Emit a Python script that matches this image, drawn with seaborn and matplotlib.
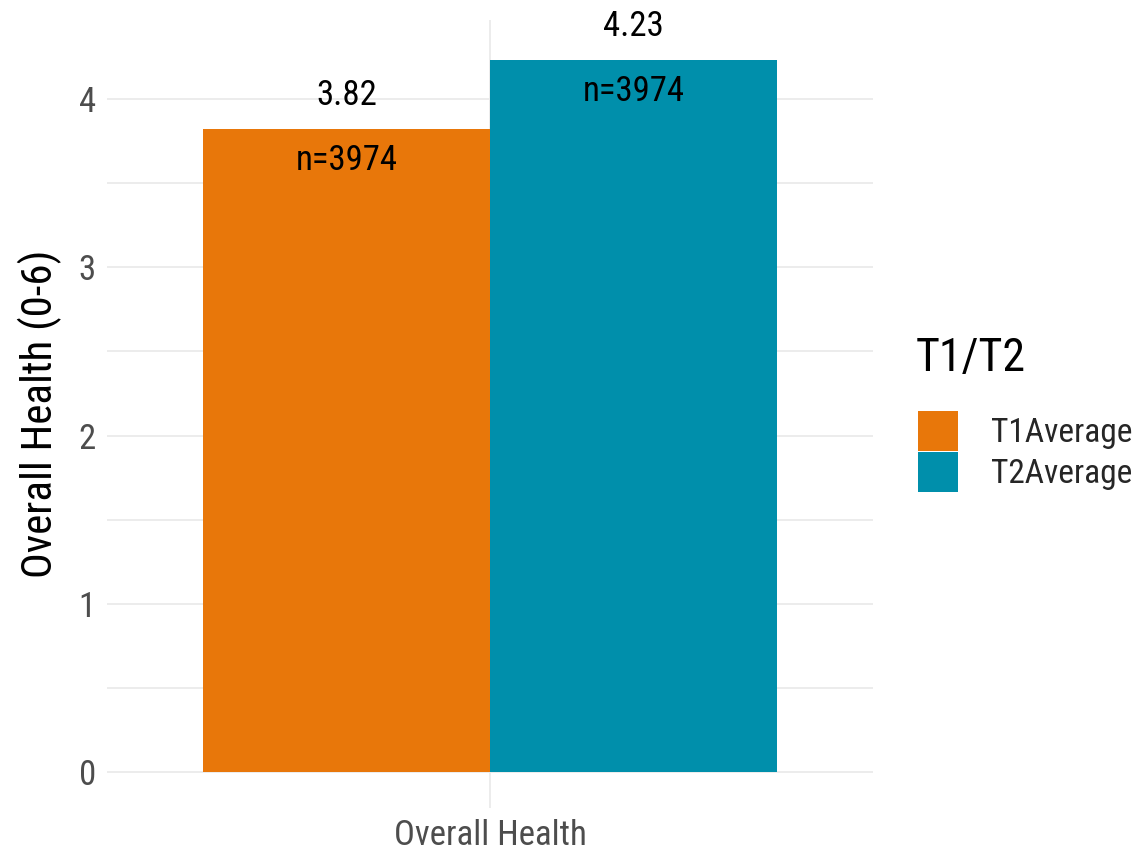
import matplotlib
matplotlib.use("Agg")
import matplotlib.pyplot as plt
import seaborn as sns
import pandas as pd
from matplotlib.patches import Patch

categories = ["Overall Health"]
series = ["T1Average", "T2Average"]
values = [3.82, 4.23]
counts = [3974, 3974]
colors = ["#E8770A", "#008FAB"]

sns.set_theme(style="white")
plt.rcParams['font.family'] = ['Roboto Condensed', 'Liberation Sans Narrow', 'DejaVu Sans']

df = pd.DataFrame({"category": categories * len(series), "series": series, "value": values, "n": counts})

fig = plt.figure(figsize=(11.42, 8.55), dpi=100)
ax = fig.add_axes([107/1142, 1-808/855, (873-107)/1142, (808-20)/855])

sns.barplot(data=df, x="category", y="value", hue="series", palette=colors,
            width=0.9, gap=0, saturation=1, ax=ax, legend=False, zorder=2,
            linewidth=0, edgecolor='none')

ax.set_xlim(-0.6, 0.6)
ax.set_ylim(-0.214, 4.47)
ax.set_yticks([0, 1, 2, 3, 4])
ax.set_yticks([0.5, 1.5, 2.5, 3.5], minor=True)
ax.grid(axis='y', which='both', color='#EBEBEB', linewidth=1.3, zorder=0)
ax.grid(axis='x', which='major', color='#EBEBEB', linewidth=1.3, zorder=0)
for s in ax.spines.values():
    s.set_visible(False)
ax.tick_params(axis='both', which='both', length=0, labelsize=25, labelcolor='#4D4D4D', pad=8)
ax.set_xlabel("")
ax.set_ylabel("Overall Health (0-6)", fontsize=31, color='black', labelpad=12)

for i, (v, n) in enumerate(zip(values, counts)):
    xpos = -0.225 + i * 0.45
    ax.annotate(f"{v:.2f}", xy=(xpos, v), xytext=(0, 34), textcoords='offset pixels',
                ha='center', va='center', fontsize=25, color='black')
    ax.annotate(f"n={n}", xy=(xpos, v), xytext=(0, -31), textcoords='offset pixels',
                ha='center', va='center', fontsize=25, color='black')

fig.text(916/1142, 1-358/855, "T1/T2", fontsize=33, color='black', ha='left', va='center')
handles = [Patch(facecolor=c, edgecolor='none') for c in colors]
leg = fig.legend(handles, series, loc='upper left',
                 bbox_to_anchor=(918/1142, 1-411/855), frameon=False,
                 fontsize=24, handlelength=1.2, handleheight=1.45,
                 labelspacing=0.05, handletextpad=1.0, borderaxespad=0, borderpad=0)

fig.savefig("out.png", dpi=100)
